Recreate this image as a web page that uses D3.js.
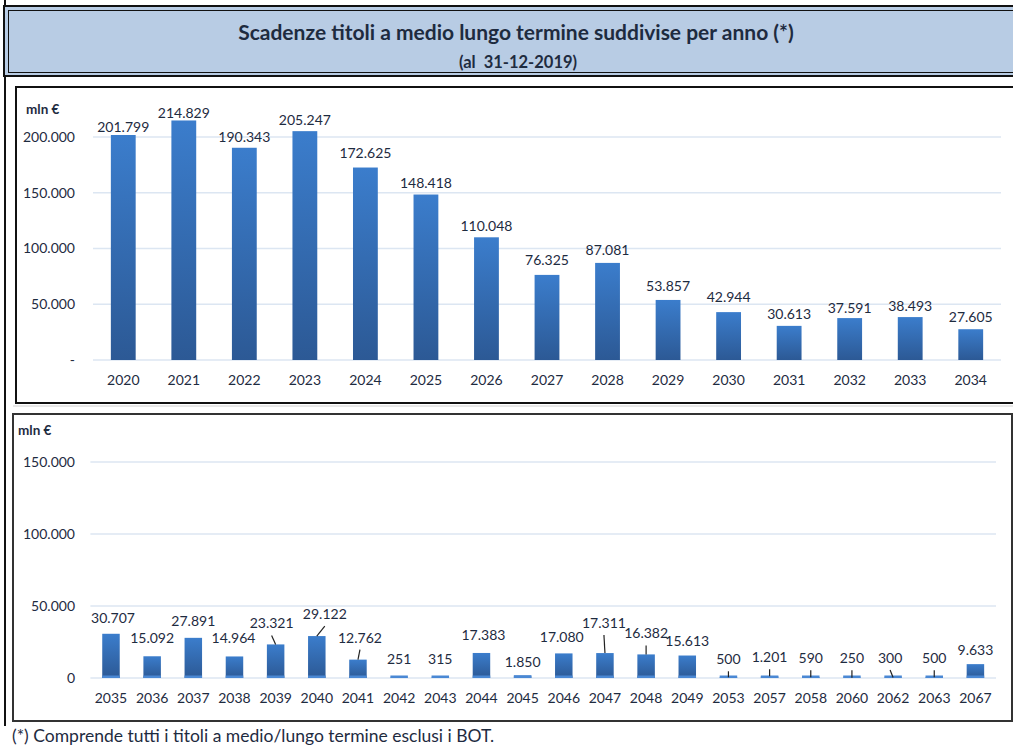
<!DOCTYPE html>
<html>
<head>
<meta charset="utf-8">
<script src="https://cdnjs.cloudflare.com/ajax/libs/d3/7.8.5/d3.min.js"></script>
<style>
  body { margin: 0; background: #fff; }
  svg text { font-family: Lato, 'Open Sans', sans-serif; fill: #1e2b3f; }
</style>
</head>
<body>
<svg id="chart" width="1013" height="745"></svg>
<script>
// data (mln €)
var topYears = ['2020', '2021', '2022', '2023', '2024', '2025', '2026', '2027', '2028', '2029', '2030', '2031', '2032', '2033', '2034']
var topValues = [201799, 214829, 190343, 205247, 172625, 148418, 110048, 76325, 87081, 53857, 42944, 30613, 37591, 38493, 27605]
var topTicks = [0, 50000, 100000, 150000, 200000]

var bottomYears = ['2035', '2036', '2037', '2038', '2039', '2040', '2041', '2042', '2043', '2044', '2045', '2046', '2047', '2048', '2049', '2053', '2057', '2058', '2060', '2062', '2063', '2067']
var bottomValues = [30707, 15092, 27891, 14964, 23321, 29122, 12762, 251, 315, 17383, 1850, 17080, 17311, 16382, 15613, 500, 1201, 590, 250, 300, 500, 9633]
var bottomTicks = [0, 50000, 100000, 150000]

// label placement (layout only): lift above bar top, and manual nudges in the lower chart
var topLift = [8, 7.5, 11, 11, 14, 11.5, 11, 15, 13, 14, 15, 12, 10, 11, 12]
var bottomNudge = [
  [2, -16], [0, -18], [0, -17], [-1, -18], [-4, -21], [8, -22], [2, -22], [0, -19],
  [0, -18.5], [2, -18], [0, -13], [-2, -16], [-1, -30], [0, -21], [0, -14], [0, -18],
  [0, -19], [0, -19], [0, -19.5], [-3, -19.5], [0, -19], [0, -14]
]
var leaders = ['2039', '2040', '2041', '2047', '2048', '2053', '2057', '2058', '2060', '2062', '2063']

var it = d3.formatLocale({ decimal: ',', thousands: '.', grouping: [3], currency: ['€', ''] })
var fmt = it.format(',.0f')

var svg = d3.select('#chart')

var defs = svg.append('defs')
var grad = defs.append('linearGradient')
  .attr('id', 'barGrad')
  .attr('x1', 0).attr('y1', 0).attr('x2', 0).attr('y2', 1)
grad.append('stop').attr('offset', '0%').attr('stop-color', '#3b7dcc')
grad.append('stop').attr('offset', '100%').attr('stop-color', '#2c5995')

// page left border
svg.append('line')
  .attr('x1', 5).attr('x2', 5).attr('y1', 0).attr('y2', 726)
  .attr('stroke', '#111').attr('stroke-width', 2)

// title box (double border)
svg.append('rect')
  .attr('x', 4).attr('y', 6).attr('width', 1030).attr('height', 70)
  .attr('fill', '#b8cce4').attr('stroke', '#111').attr('stroke-width', 2)
svg.append('rect')
  .attr('x', 8.5).attr('y', 10.5).attr('width', 1030).attr('height', 62)
  .attr('fill', 'none').attr('stroke', '#111').attr('stroke-width', 1)

svg.append('text')
  .text('Scadenze titoli a medio lungo termine suddivise per anno (*)')
  .attr('x', 516).attr('y', 33).attr('dy', '0.35em')
  .attr('text-anchor', 'middle')
  .attr('font-size', '21px').style('font-weight', 'bold')
svg.append('text')
  .text('(al  31-12-2019)')
  .attr('x', 518).attr('y', 62).attr('dy', '0.35em')
  .attr('text-anchor', 'middle')
  .attr('font-size', '16.5px').style('font-weight', 'bold')
  .style('white-space', 'pre')

// chart frames
svg.append('rect')
  .attr('x', 16).attr('y', 87).attr('width', 1020).attr('height', 316)
  .attr('fill', 'none').attr('stroke', '#111').attr('stroke-width', 2)
svg.append('line')
  .attr('x1', 13).attr('x2', 1013).attr('y1', 406).attr('y2', 406)
  .attr('stroke', '#d0d0d0')
svg.append('rect')
  .attr('x', 13).attr('y', 414).attr('width', 999).attr('height', 307)
  .attr('fill', 'none').attr('stroke', '#333').attr('stroke-width', 2)

svg.append('text')
  .text('(*) Comprende tutti i titoli a medio/lungo termine esclusi i BOT.')
  .attr('x', 12).attr('y', 736).attr('dy', '0.35em')
  .attr('font-size', '17.5px')

function drawPanel(opts) {
  var g = svg.append('g')

  var x = d3.scaleBand()
    .domain(opts.years)
    .range(opts.xRange)
    .paddingInner(opts.pad)
    .paddingOuter(opts.pad / 2)

  var y = d3.scaleLinear()
    .domain([0, opts.max])
    .range(opts.yRange)

  // grid
  g.selectAll('.grid')
    .data(opts.ticks)
    .enter()
    .append('line')
    .attr('x1', opts.xRange[0]).attr('x2', opts.xRange[1])
    .attr('y1', d => y(d)).attr('y2', d => y(d))
    .attr('stroke', '#dce6f2').attr('stroke-width', 1.5)

  // y axis labels
  var yAxis = d3.axisLeft(y)
    .tickValues(opts.ticks)
    .tickSize(0)
    .tickPadding(0)
    .tickFormat(d => (d === 0 ? opts.zeroLabel : fmt(d)))
  var ya = g.append('g')
    .attr('transform', 'translate(' + opts.yLabelX + ',0)')
    .call(yAxis)
  ya.select('.domain').remove()
  ya.selectAll('text').attr('font-size', '14px').attr('font-family', null).attr('fill', null)

  // x axis labels
  var xAxis = d3.axisBottom(x).tickSize(0).tickPadding(0)
  var xa = g.append('g')
    .attr('transform', 'translate(0,' + opts.xLabelY + ')')
    .call(xAxis)
  xa.select('.domain').remove()
  xa.selectAll('text').attr('font-size', '14px').attr('font-family', null).attr('fill', null)
    .attr('dy', '0.35em').attr('y', 0)

  // unit label
  g.append('text')
    .text('mln €')
    .attr('x', opts.unitX).attr('y', opts.unitY).attr('dy', '0.35em')
    .attr('font-size', '13.5px').style('font-weight', 'bold')

  // bars
  g.selectAll('.bar')
    .data(opts.values)
    .enter()
    .append('rect')
    .attr('x', (d, i) => x(opts.years[i]))
    .attr('width', x.bandwidth())
    .attr('y', d => y(d))
    .attr('height', d => y(0) - y(d))
    .attr('fill', 'url(#barGrad)')

  if (opts.base) {
    g.selectAll('.base')
      .data(opts.values)
      .enter()
      .append('rect')
      .attr('x', (d, i) => x(opts.years[i]))
      .attr('width', x.bandwidth())
      .attr('y', y(0) - 2.5)
      .attr('height', 2.5)
      .attr('fill', '#4a88d4')
  }

  // leader lines + value labels
  opts.values.forEach(function(d, i) {
    var cx = x(opts.years[i]) + x.bandwidth() / 2
    var top = y(d)
    var lx = cx + opts.nudge(i)[0]
    var ly = top + opts.nudge(i)[1]
    if (opts.leaders && opts.leaders.indexOf(opts.years[i]) >= 0) {
      g.append('line')
        .attr('x1', lx).attr('y1', ly + 12)
        .attr('x2', cx).attr('y2', top)
        .attr('stroke', '#222').attr('stroke-width', 1.2)
    }
    g.append('text')
      .text(fmt(d))
      .attr('x', lx).attr('y', ly).attr('dy', '0.35em')
      .attr('text-anchor', 'middle')
      .attr('font-size', '14px')
  })
}

drawPanel({
  years: topYears,
  values: topValues,
  ticks: topTicks,
  max: 200000,
  xRange: [93, 1001],
  yRange: [360, 137],
  pad: 0.59,
  zeroLabel: '-',
  yLabelX: 75,
  xLabelY: 380,
  unitX: 26,
  unitY: 109,
  base: false,
  nudge: i => [0, -topLift[i]]
})

drawPanel({
  years: bottomYears,
  values: bottomValues,
  ticks: bottomTicks,
  max: 150000,
  xRange: [90.4, 996],
  yRange: [678, 462],
  pad: 0.575,
  zeroLabel: '0',
  yLabelX: 75,
  xLabelY: 698,
  unitX: 18,
  unitY: 430,
  base: true,
  leaders: leaders,
  nudge: i => bottomNudge[i]
})
</script>
</body>
</html>
